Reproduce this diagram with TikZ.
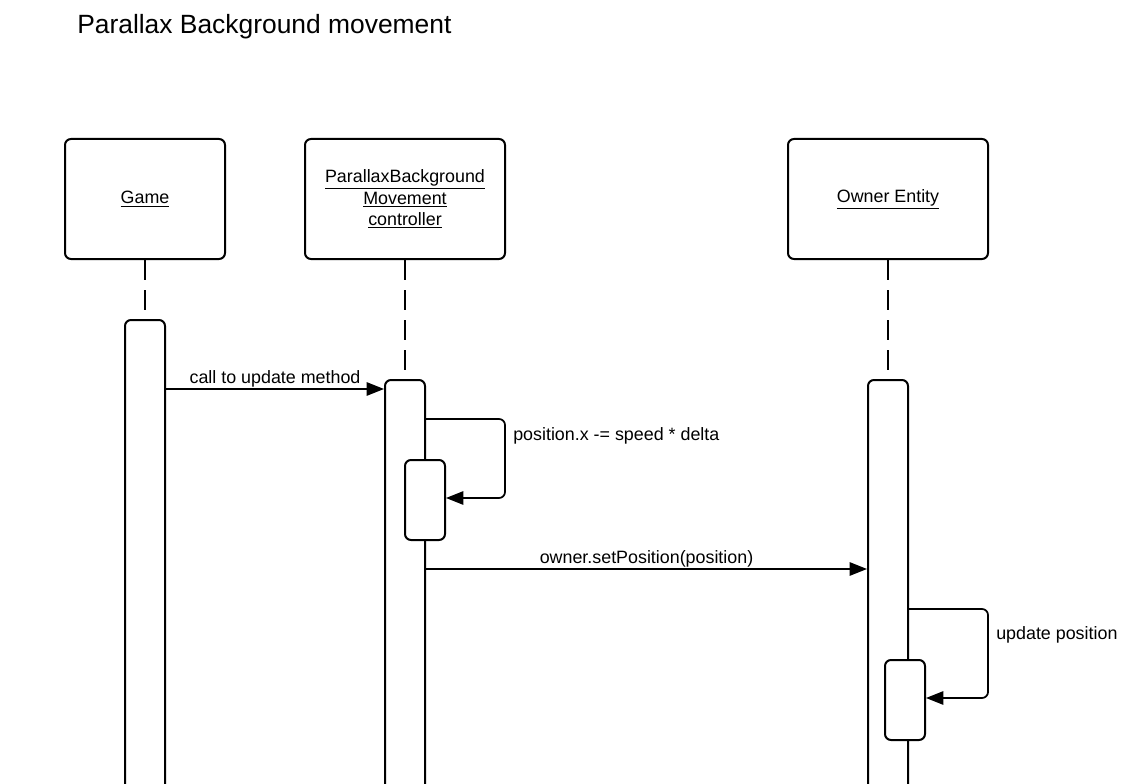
\documentclass[tikz,border=0pt]{standalone}
\usepackage{fontspec}
\setmainfont{Liberation Sans}
\usepackage{tikz}
\usetikzlibrary{arrows.meta}

\begin{document}
\begin{tikzpicture}[line cap=butt,line join=round,>={Triangle[length=13pt,width=10pt]},x=0.75pt,y=-0.75pt,
    objbox/.style={draw,line width=1.5pt,rounded corners=4.5pt,align=center,inner sep=0pt,
        minimum height=90pt,font=\fontsize{13.4}{16}\selectfont},
    actbar/.style={draw,fill=white,line width=1.5pt,rounded corners=4.5pt,minimum width=30pt,
        inner sep=0pt,anchor=north},
    lifeline/.style={line width=1.5pt,dash pattern=on 15pt off 7.5pt},
    msg/.style={->,line width=1.3pt},
    msglabel/.style={font=\fontsize{13.4}{16}\selectfont,inner sep=0pt}]
        \clip (0,0) rectangle (1144,784);
        \node[anchor=base west,inner sep=0pt,font=\fontsize{19.8}{24}\selectfont] (title) at (77,34) {Parallax Background movement};
        % objects
        \node[objbox,minimum width=120pt] (game) at (145,199) {\underline{Game}};
        \node[objbox,minimum width=150pt] (pbm) at (405,199) {\underline{ParallaxBackground}\\\underline{Movement}\\\underline{controller}};
        \node[objbox,minimum width=150pt] (owner) at (888,199) {\underline{Owner Entity}};
        % activations
        \node[actbar,minimum height=375pt] (gameact) at (145,319) {};
        \node[actbar,minimum height=330pt] (pbmact) at (405,379) {};
        \node[actbar,minimum height=330pt] (ownact) at (888,379) {};
        \node[actbar,minimum height=60pt] (pbmsub) at (425,459) {};
        \node[actbar,minimum height=60pt] (ownsub) at (905,659) {};
        % lifelines
        \draw [lifeline] (game.south) -- (gameact.north);
        \draw [lifeline] (pbm.south) -- (pbmact.north);
        \draw [lifeline] (owner.south) -- (ownact.north);
        % messages
        \draw [msg] (gameact.east |- 0,389) -- node[msglabel,above=0.5pt] {call to update method} (pbmact.west |- 0,389);
        \draw [msg,rounded corners=4.5pt] (pbmact.east |- 0,419) -- (505,419) -- (505,498) -- (pbmsub.east |- 0,498);
        \node[msglabel,anchor=west] (lbl1) at (513,436) {position.x -= speed * delta};
        \draw [msg] (pbmact.east |- 0,569) -- node[msglabel,above=0.5pt] {owner.setPosition(position)} (ownact.west |- 0,569);
        \draw [msg,rounded corners=4.5pt] (ownact.east |- 0,609) -- (988,609) -- (988,698) -- (ownsub.east |- 0,698);
        \node[msglabel,anchor=west] (lbl2) at (996,635) {update position};
    \end{tikzpicture}
\end{document}
